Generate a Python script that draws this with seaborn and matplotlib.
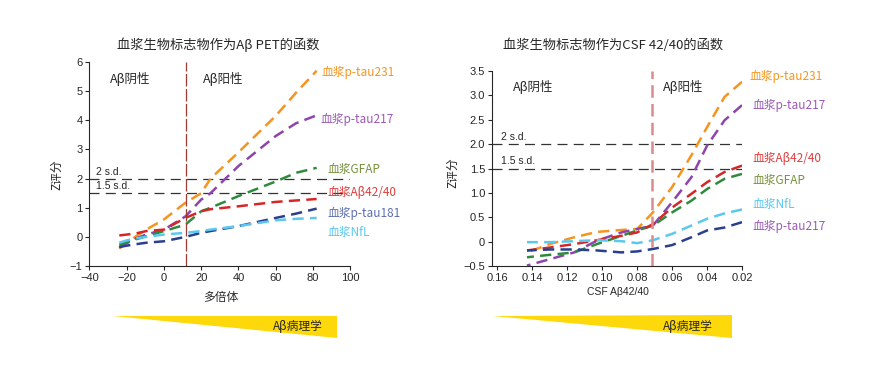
import numpy as np
import pandas as pd
import matplotlib
matplotlib.use("Agg")
import matplotlib.pyplot as plt
from matplotlib.patches import Polygon
import seaborn as sns

#%% Data
# left panel: x = 多倍体 (Aβ PET centiloid)
pet_x = [-24, -20, -15, -9.5, 0, 11.5, 20, 25, 40, 60, 71, 82]
pet_ptau231 = [-0.40, -0.20, 0.02, 0.25, 0.60, 1.17, 1.50, 2.00, 2.90, 4.15, 4.95, 5.70]
pet_ptau217 = [-0.35, -0.22, -0.05, 0.08, 0.25, 0.70, 1.28, 1.50, 2.43, 3.46, 3.90, 4.17]
pet_gfap = [-0.27, -0.18, -0.08, 0.02, 0.20, 0.42, 0.88, 1.00, 1.40, 1.90, 2.20, 2.37]
pet_ab4240 = [0.05, 0.08, 0.12, 0.20, 0.25, 0.65, 0.88, 0.95, 1.05, 1.20, 1.25, 1.30]
pet_ptau181 = [-0.35, -0.30, -0.25, -0.20, -0.15, 0.00, 0.14, 0.20, 0.37, 0.65, 0.80, 0.97]
pet_nfl = [-0.20, -0.12, -0.05, 0.00, 0.08, 0.14, 0.20, 0.25, 0.37, 0.57, 0.62, 0.65]

# right panel: x = CSF Aβ42/40
csf_x = [0.143, 0.130, 0.116, 0.103, 0.089, 0.080, 0.071, 0.060, 0.049, 0.040, 0.030, 0.020]
csf_ptau231 = [-0.22, -0.05, 0.09, 0.20, 0.24, 0.26, 0.60, 1.12, 1.77, 2.35, 2.97, 3.28]
csf_ptau217 = [-0.49, -0.36, -0.22, 0.02, 0.19, 0.26, 0.33, 0.81, 1.32, 1.97, 2.49, 2.80]
csf_ab4240 = [-0.18, -0.12, -0.05, 0.03, 0.12, 0.19, 0.36, 0.70, 0.98, 1.22, 1.43, 1.56]
csf_gfap = [-0.32, -0.27, -0.22, -0.05, 0.12, 0.23, 0.33, 0.60, 0.84, 1.08, 1.29, 1.39]
csf_nfl = [-0.01, -0.01, 0.01, 0.03, 0.01, -0.03, 0.03, 0.16, 0.33, 0.47, 0.58, 0.66]
csf_ptau181 = [-0.18, -0.16, -0.16, -0.18, -0.22, -0.20, -0.15, -0.07, 0.09, 0.23, 0.29, 0.40]

line_colors = {
    "p-tau231": "#f7941d",
    "p-tau217": "#8e44ad",
    "GFAP": "#2e8b3e",
    "Aβ42/40": "#d62728",
    "p-tau181": "#2b3f8f",
    "NfL": "#5bc8f0",
}
text_colors = {
    "p-tau231": "#f7941d",
    "p-tau217": "#9b59b6",
    "GFAP": "#76923c",
    "Aβ42/40": "#e03c3c",
    "p-tau181": "#5b6fae",
    "NfL": "#5bc8f0",
}

pet_df = pd.concat([
    pd.DataFrame({"x": pet_x, "z": v, "bm": k}) for k, v in [
        ("p-tau231", pet_ptau231), ("p-tau217", pet_ptau217), ("GFAP", pet_gfap),
        ("Aβ42/40", pet_ab4240), ("p-tau181", pet_ptau181), ("NfL", pet_nfl)]
])
csf_df = pd.concat([
    pd.DataFrame({"x": csf_x, "z": v, "bm": k}) for k, v in [
        ("p-tau231", csf_ptau231), ("p-tau217", csf_ptau217), ("GFAP", csf_gfap),
        ("Aβ42/40", csf_ab4240), ("p-tau181", csf_ptau181), ("NfL", csf_nfl)]
])

#%% Style
sns.set_style("ticks")
plt.rcParams['font.family'] = ['Noto Sans CJK SC', 'DejaVu Sans']
plt.rcParams['axes.unicode_minus'] = True
num_font = ['Liberation Sans', 'DejaVu Sans']

fig = plt.figure(figsize=(8.73, 3.69), dpi=100)
ax1 = fig.add_axes([0.1025, 0.279, 0.2986, 0.553])
ax2 = fig.add_axes([0.5636, 0.279, 0.2864, 0.5285])

dash = (0, (4.5, 2.5))
for ax, df in [(ax1, pet_df), (ax2, csf_df)]:
    sns.lineplot(data=df, x="x", y="z", hue="bm", palette=line_colors,
                 linestyle=dash, lw=1.8, legend=False, ax=ax)
    sns.despine(ax=ax)
    ax.tick_params(length=3, width=0.8, pad=2)
    for s in ax.spines.values():
        s.set_linewidth(0.8)
    ax.set_xlabel("")
    ax.set_ylabel("")
    for yy in (2, 1.5):
        ax.axhline(yy, color="#333333", lw=0.9, dashes=(8, 5), zorder=1)

#%% Left panel
ax1.set_xlim(-40, 100)
ax1.set_ylim(-1, 6)
ax1.set_xticks(range(-40, 101, 20))
ax1.set_yticks(range(-1, 7))
ax1.set_xticklabels([str(v).replace("-", "\u2212") for v in range(-40, 101, 20)])
ax1.set_yticklabels([str(v).replace("-", "\u2212") for v in range(-1, 7)])
ax1.axvline(12, color="#9e3b33", lw=0.9, dashes=(10, 2))
ax1.text(-29, 5.4, "Aβ阴性", fontsize=9, va="center")
ax1.text(21, 5.4, "Aβ阳性", fontsize=9, va="center")
ax1.text(-36.5, 2.22, "2 s.d.", fontsize=7.5, va="center", family=num_font)
ax1.text(-36.5, 1.76, "1.5 s.d.", fontsize=7.5, va="center", family=num_font)
pet_labels = [("p-tau231", 84.8, 5.64), ("p-tau217", 84, 4.02), ("GFAP", 88, 2.3),
              ("Aβ42/40", 88, 1.51), ("p-tau181", 88, 0.79), ("NfL", 88, 0.14)]
for k, xx, yy in pet_labels:
    ax1.text(xx, yy, "血浆" + k, color=text_colors[k], fontsize=8.5, va="center", clip_on=False)
ax1.text(0.493, 1.083, "血浆生物标志物作为Aβ PET的函数", transform=ax1.transAxes,
         ha="center", va="center", fontsize=9.5)
ax1.text(-0.125, 0.446, "Z评分", transform=ax1.transAxes, rotation=90,
         ha="center", va="center", fontsize=8.5)
ax1.text(0.502, -0.152, "多倍体", transform=ax1.transAxes, ha="center", va="center", fontsize=8.5)

#%% Right panel
ax2.set_xlim(0.163, 0.02)
ax2.set_ylim(-0.5, 3.5)
ax2.set_xticks(np.arange(0.16, 0.019, -0.02))
ax2.set_xticklabels([f"{v:.2f}" for v in np.arange(0.16, 0.019, -0.02)])
yt = np.arange(-0.5, 3.51, 0.5)
ax2.set_yticks(yt)
ax2.set_yticklabels(["0" if abs(v) < 1e-9 else f"{v:.1f}".replace("-", "\u2212") for v in yt])
ax2.axvline(0.0715, color="#d98c8c", lw=1.8, dashes=(5, 2.5))
ax2.text(0.151, 3.17, "Aβ阴性", fontsize=9, va="center")
ax2.text(0.065, 3.17, "Aβ阳性", fontsize=9, va="center")
ax2.text(0.158, 2.14, "2 s.d.", fontsize=7.5, va="center", family=num_font)
ax2.text(0.158, 1.66, "1.5 s.d.", fontsize=7.5, va="center", family=num_font)
csf_labels = [("p-tau231", 0.016, 3.38), ("p-tau217", 0.0143, 2.80), ("Aβ42/40", 0.0143, 1.70),
              ("GFAP", 0.0143, 1.26), ("NfL", 0.0143, 0.77), ("p-tau217", 0.0143, 0.32)]
for k, xx, yy in csf_labels:
    ax2.text(xx, yy, "血浆" + k, color=text_colors[k], fontsize=8.5, va="center", clip_on=False)
ax2.text(0.484, 1.133, "血浆生物标志物作为CSF 42/40的函数", transform=ax2.transAxes,
         ha="center", va="center", fontsize=9.5)
ax2.text(-0.156, 0.477, "Z评分", transform=ax2.transAxes, rotation=90,
         ha="center", va="center", fontsize=8.5)
ax2.text(0.504, -0.133, "CSF Aβ42/40", transform=ax2.transAxes, ha="center", va="center",
         fontsize=7.5, family=['Liberation Sans', 'Noto Sans CJK SC'])

for ax in (ax1, ax2):
    for lab in ax.get_xticklabels() + ax.get_yticklabels():
        lab.set_fontfamily(num_font)
        lab.set_fontsize(8)

#%% Yellow wedges
for pts, tx in [([(0.1294, 0.1436), (0.386, 0.1436), (0.386, 0.084)], 0.3414),
                ([(0.5647, 0.1436), (0.8385, 0.1463), (0.8385, 0.084)], 0.788)]:
    fig.patches.append(Polygon(pts, closed=True, transform=fig.transFigure,
                               facecolor="#fdd80a", edgecolor="none"))
    fig.text(tx, 0.1165, "Aβ病理学", ha="center", va="center", fontsize=8.5)

fig.savefig("out.png", dpi=100)
